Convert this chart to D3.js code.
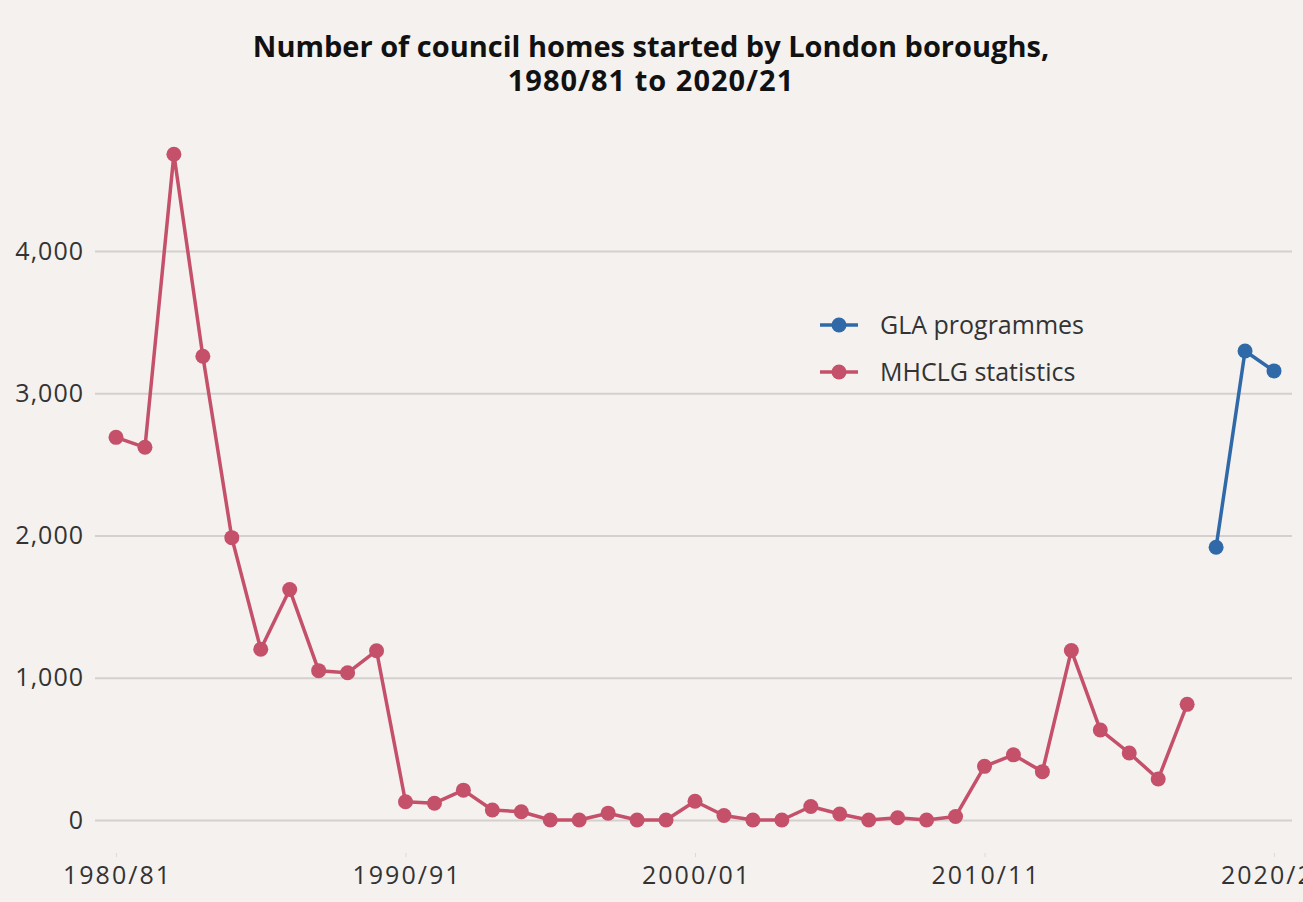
<!DOCTYPE html>
<html>
<head>
<meta charset="utf-8">
<script src="https://cdn.jsdelivr.net/npm/d3@7"></script>
<style>
  html, body { margin: 0; padding: 0; background: #f4f1ef; }
  svg { display: block; }
  .axis text { font-family: "Open Sans", sans-serif; font-size: 25px; fill: #333; }
</style>
</head>
<body>
<svg id="chart" width="1303" height="902"></svg>
<script>
// Financial years shown on the x axis
const years = [
  "1980/81","1981/82","1982/83","1983/84","1984/85","1985/86","1986/87","1987/88","1988/89","1989/90",
  "1990/91","1991/92","1992/93","1993/94","1994/95","1995/96","1996/97","1997/98","1998/99","1999/00",
  "2000/01","2001/02","2002/03","2003/04","2004/05","2005/06","2006/07","2007/08","2008/09","2009/10",
  "2010/11","2011/12","2012/13","2013/14","2014/15","2015/16","2016/17","2017/18","2018/19","2019/20",
  "2020/21"
];

// MHCLG statistics, 1980/81 to 2017/18
const mhclgYears = years.slice(0, 38);
const mhclgValues = [
  2690, 2620, 4680, 3260, 1985, 1200, 1620, 1050, 1035, 1190,
  128, 118, 210, 70, 58, 0, 0, 48, 0, 0,
  132, 32, 0, 0, 95, 42, 0, 16, 0, 25,
  377, 458, 340, 1192, 633, 471, 288, 813
];

// GLA programmes, 2018/19 to 2020/21
const glaYears = ["2018/19", "2019/20", "2020/21"];
const glaValues = [1917, 3297, 3157];

const xTickLabels = ["1980/81", "1990/91", "2000/01", "2010/11", "2020/21"];
const yTickValues = [0, 1000, 2000, 3000, 4000];

const seriesNames = ["GLA programmes", "MHCLG statistics"];
const seriesColors = ["#2f69a8", "#c5506a"];

const titleLines = [
  "Number of council homes started by London boroughs,",
  "1980/81 to 2020/21"
];

const svg = d3.select("#chart");
const W = 1303, H = 902;

svg.append("rect").attr("width", W).attr("height", H).attr("fill", "#f4f1ef");

const x = d3.scalePoint().domain(years).range([116, 1274]);
const y = d3.scaleLinear().domain([0, 4000]).range([820, 251]);

// Title, two centred lines in one text block
const title = svg.append("text")
  .attr("x", 651)
  .attr("y", 57)
  .attr("text-anchor", "middle")
  .attr("font-family", "'Open Sans', sans-serif")
  .attr("font-weight", 700)
  .attr("font-size", 29)
  .attr("fill", "#111");
title.selectAll("tspan").data(titleLines).join("tspan")
  .attr("x", 651)
  .attr("dy", (d, i) => i === 0 ? 0 : 34)
  .attr("letter-spacing", (d, i) => i === 1 ? 1 : 0)
  .text(d => d);

// Y axis with full-width gridlines
const gridLeft = 95, gridRight = 1292;
const yAxis = svg.append("g")
  .attr("class", "axis")
  .attr("transform", `translate(${gridLeft},0)`)
  .call(d3.axisLeft(y)
    .tickValues(yTickValues)
    .tickSize(-(gridRight - gridLeft))
    .tickPadding(11)
    .tickFormat(d3.format(",")));
yAxis.select(".domain").remove();
yAxis.selectAll(".tick line").attr("stroke", "#d3d0cd").attr("stroke-width", 2);
yAxis.selectAll(".tick text").attr("letter-spacing", 1);

// X axis
const xAxis = svg.append("g")
  .attr("class", "axis")
  .attr("transform", "translate(0,853)")
  .call(d3.axisBottom(x)
    .tickValues(xTickLabels)
    .tickSize(4)
    .tickPadding(9));
xAxis.select(".domain").remove();
xAxis.selectAll(".tick line").attr("stroke", "#dcd9d6").attr("stroke-width", 1);
xAxis.selectAll(".tick text").attr("letter-spacing", 2).attr("dx", 1);

// Series
const series = [
  { name: seriesNames[1], color: seriesColors[1], data: mhclgYears.map((k, i) => ({ k, v: mhclgValues[i] })) },
  { name: seriesNames[0], color: seriesColors[0], data: glaYears.map((k, i) => ({ k, v: glaValues[i] })) }
];

const line = d3.line().x(d => x(d.k)).y(d => y(d.v));

series.forEach(s => {
  const g = svg.append("g");
  g.append("path")
    .datum(s.data)
    .attr("fill", "none")
    .attr("stroke", s.color)
    .attr("stroke-width", 3.5)
    .attr("stroke-linejoin", "round")
    .attr("d", line);
  g.selectAll("circle").data(s.data).join("circle")
    .attr("cx", d => x(d.k))
    .attr("cy", d => y(d.v))
    .attr("r", 7.5)
    .attr("fill", s.color);
});

// Legend
const legend = svg.append("g").attr("transform", "translate(839,325)");
seriesNames.forEach((name, i) => {
  const row = legend.append("g").attr("transform", `translate(0,${i * 47})`);
  row.append("line").attr("x1", -19).attr("x2", 19)
    .attr("stroke", seriesColors[i]).attr("stroke-width", 3.5);
  row.append("circle").attr("r", 7.5).attr("fill", seriesColors[i]);
  row.append("text")
    .attr("x", 41).attr("dy", "0.35em")
    .attr("font-family", "'Open Sans', sans-serif")
    .attr("font-size", 25)
    .attr("fill", "#333")
    .text(name);
});
</script>
</body>
</html>
